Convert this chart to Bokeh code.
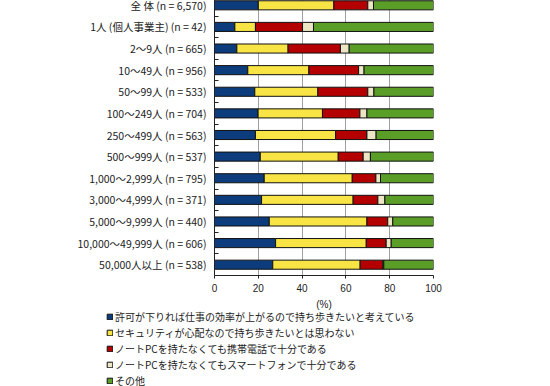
from bokeh.plotting import figure
from bokeh.layouts import column
from bokeh.models import FixedTicker, Legend, LegendItem, ColumnDataSource, Range1d
from bokeh.embed import file_html
from bokeh.resources import INLINE

categories = [
    "全 体 (n = 6,570)",
    "1人 (個人事業主) (n = 42)",
    "2～9人 (n = 665)",
    "10～49人 (n = 956)",
    "50～99人 (n = 533)",
    "100～249人 (n = 704)",
    "250～499人 (n = 563)",
    "500～999人 (n = 537)",
    "1,000～2,999人 (n = 795)",
    "3,000～4,999人 (n = 371)",
    "5,000～9,999人 (n = 440)",
    "10,000～49,999人 (n = 606)",
    "50,000人以上 (n = 538)",
]
series_names = [
    "許可が下りれば仕事の効率が上がるので持ち歩きたいと考えている",
    "セキュリティが心配なので持ち歩きたいとは思わない",
    "ノートPCを持たなくても携帯電話で十分である",
    "ノートPCを持たなくてもスマートフォンで十分である",
    "その他",
]
s_efficiency = [20.0, 9.3, 10.2, 15.2, 18.4, 19.9, 18.7, 20.9, 22.7, 21.5, 25.0, 27.9, 26.6]
s_security = [34.5, 9.4, 23.4, 27.9, 28.8, 29.4, 36.6, 35.6, 40.2, 41.8, 44.6, 41.4, 39.9]
s_phone = [15.5, 21.5, 23.9, 22.7, 22.8, 17.1, 14.3, 11.4, 10.8, 11.3, 9.5, 9.1, 10.4]
s_smartphone = [2.6, 5.0, 4.0, 2.5, 2.8, 3.2, 4.2, 3.3, 2.1, 3.2, 2.3, 2.3, 0.4]
s_other = [27.4, 54.8, 38.5, 31.7, 27.2, 30.4, 26.2, 28.8, 24.2, 22.2, 18.6, 19.3, 22.7]
x_ticks = [0, 20, 40, 60, 80, 100]
colors = ["#0d3c7c", "#f8e444", "#b40000", "#ece6c4", "#5a9e28"]

n = len(categories)
ypos = [n - 1 - i for i in range(n)]
keys = ["s1", "s2", "s3", "s4", "s5"]
src = ColumnDataSource(dict(y=ypos, s1=s_efficiency, s2=s_security, s3=s_phone,
                            s4=s_smartphone, s5=s_other))

p = figure(frame_width=219, frame_height=281,
           min_border_left=214, min_border_right=117,
           min_border_top=6, min_border_bottom=40,
           x_range=Range1d(0, 100), y_range=Range1d(-0.5, n - 0.5),
           output_backend="svg", toolbar_location=None)
p.outline_line_color = None
p.background_fill_color = "white"

p.hbar_stack(keys, y="y", height=0.42, fill_color=colors,
             line_color="#111111", line_width=1, source=src)

# axes
p.xaxis.ticker = FixedTicker(ticks=x_ticks)
p.xaxis.axis_label = "(%)"
p.xaxis.axis_label_text_font = "Liberation Sans"
p.xaxis.axis_label_text_font_style = "normal"
p.xaxis.axis_label_text_font_size = "10px"
p.xaxis.axis_label_text_color = "#222222"
p.xaxis.axis_label_standoff = 4
p.xaxis.major_label_text_font = "Liberation Sans"
p.xaxis.major_label_text_font_size = "10px"
p.xaxis.major_label_text_color = "#222222"
p.xaxis.major_tick_out = 3
p.xaxis.major_tick_in = 0
p.xaxis.minor_tick_line_color = None
p.xaxis.major_label_standoff = 5
p.xaxis.axis_line_color = "#222222"
p.xaxis.major_tick_line_color = "#222222"

yt = FixedTicker(ticks=ypos, minor_ticks=[i + 0.5 for i in range(n - 1)])
p.yaxis.ticker = yt
p.yaxis.major_label_overrides = {ypos[i]: categories[i] for i in range(n)}
p.yaxis.major_label_text_font = "Noto Sans CJK JP"
p.yaxis.major_label_text_font_size = "10.5px"
p.yaxis.major_label_text_color = "#222222"
p.yaxis.major_tick_line_color = None
p.yaxis.major_tick_out = 0
p.yaxis.major_tick_in = 0
p.yaxis.minor_tick_in = 4
p.yaxis.minor_tick_out = 0
p.yaxis.minor_tick_line_color = "#222222"
p.yaxis.major_label_standoff = 8
p.yaxis.axis_line_color = "#222222"

p.ygrid.grid_line_color = None
p.xgrid.ticker = FixedTicker(ticks=x_ticks)
p.xgrid.grid_line_color = "#a0a0a0"
p.xgrid.grid_line_width = 1

# legend figure: same series, view range chosen so the bars are out of view
p2 = figure(width=550, height=90, min_border=0,
            x_range=Range1d(0, 100), y_range=Range1d(n + 10, n + 11),
            output_backend="svg", toolbar_location=None)
p2.axis.visible = False
p2.grid.visible = False
p2.outline_line_color = None
p2.background_fill_color = None
p2.border_fill_color = None
lrends = p2.hbar_stack(keys, y="y", height=0.42, fill_color=colors,
                       line_color="#111111", line_width=1, source=src)
legend = Legend(items=[LegendItem(label=series_names[i], renderers=[lrends[i]]) for i in range(5)],
                location=(106, 9), orientation="vertical",
                glyph_width=7, glyph_height=7, label_height=12, spacing=1,
                label_standoff=2, padding=0, margin=0,
                border_line_color=None, background_fill_alpha=0,
                label_text_font="Noto Sans CJK JP", label_text_font_size="10px",
                label_text_color="#222222")
p2.add_layout(legend)

inner = column(p2, spacing=0)
inner.styles = {"margin-top": "-8px"}
layout = column(p, inner, spacing=0)
layout.styles = {"margin-top": "-12px"}

open("out.html", "w").write(file_html(layout, INLINE))
